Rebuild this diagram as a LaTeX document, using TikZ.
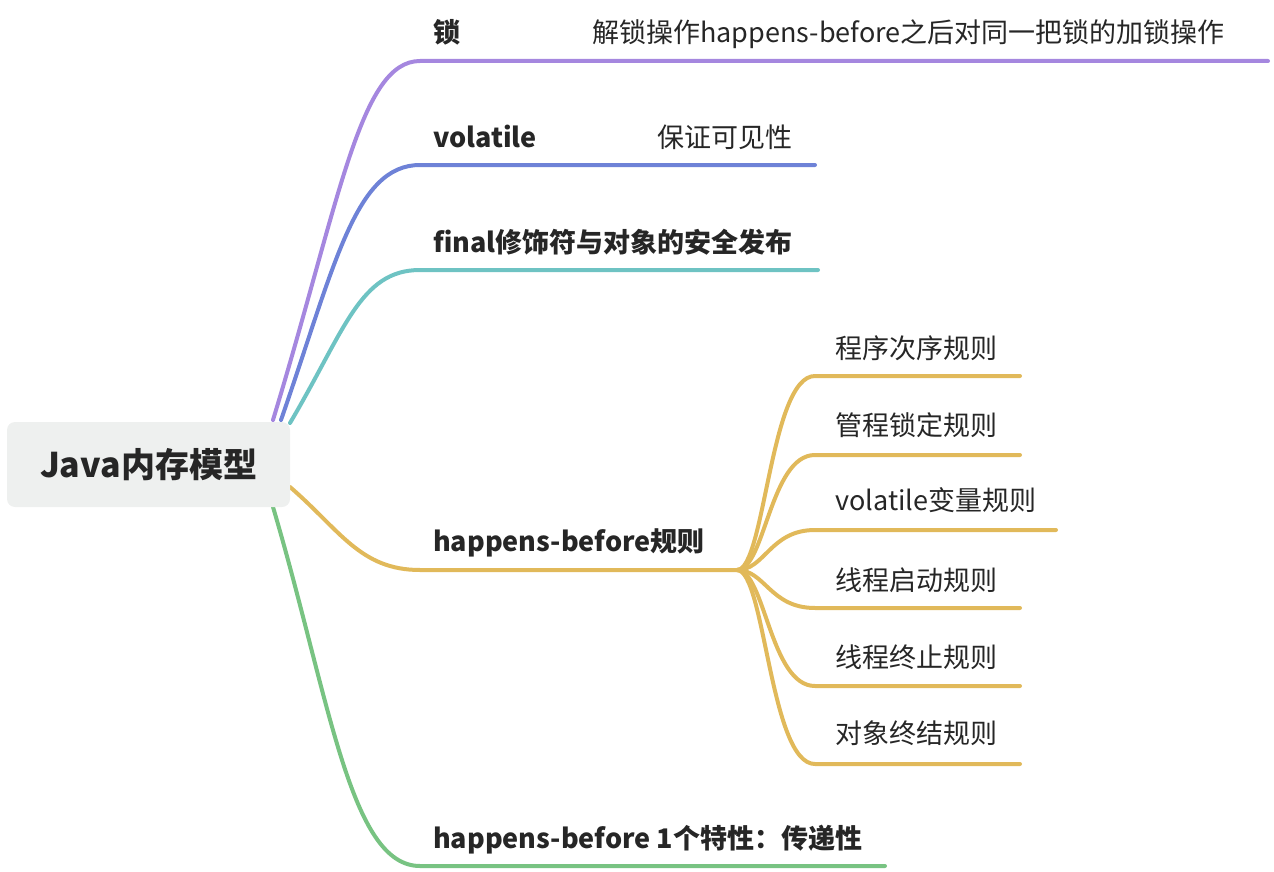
\documentclass[tikz,border=0pt]{standalone}
\usepackage{fontspec}
\setmainfont{Noto Sans CJK SC}
\newfontfamily\cjkb{Noto Sans CJK SC}[BoldFont={Noto Sans CJK SC Bold}]
\definecolor{cPurple}{HTML}{A587DF}
\definecolor{cBlue}{HTML}{6E82D7}
\definecolor{cTeal}{HTML}{6EC3C3}
\definecolor{cYellow}{HTML}{E1B95A}
\definecolor{cGreen}{HTML}{78C382}
\definecolor{cRoot}{HTML}{EEF0EF}
\definecolor{cText}{HTML}{262626}
\begin{document}
\begin{tikzpicture}[x=1pt,y=-1pt,
  branch/.style={line width=4pt,line cap=round},
  lbl/.style={anchor=base west,inner sep=0pt,text=cText,font=\fontsize{27}{32}\selectfont},
  blbl/.style={lbl,font=\fontsize{27}{32}\selectfont\bfseries},
  rootbox/.style={fill=cRoot,rounded corners=8pt,minimum width=283pt,minimum height=85pt,inner sep=0pt,text=cText,font=\fontsize{34}{40}\selectfont\bfseries}]
\useasboundingbox (0,0) rectangle (1274,872);
% branch lines (drawn first)
\coordinate (sP) at (273,420);
\coordinate (sB) at (281,420);
\coordinate (sT) at (290,423);
\coordinate (sY) at (290,487);
\coordinate (sG) at (273,507);
\coordinate (eP) at (1268,61);
\coordinate (eB) at (815,165);
\coordinate (eT) at (818,270);
\coordinate (hub) at (737,570);
\coordinate (eG) at (885,866);
\draw[branch,cPurple] (sP) .. controls (340,200) and (360,61) .. (420,61) -- (eP);
\draw[branch,cBlue] (sB) .. controls (335,265) and (355,165) .. (420,165) -- (eB);
\draw[branch,cTeal] (sT) .. controls (345,330) and (360,270) .. (420,270) -- (eT);
\draw[branch,cYellow] (sY) .. controls (340,530) and (360,570) .. (420,570) -- (hub);
\draw[branch,cGreen] (sG) .. controls (330,700) and (350,866) .. (420,866) -- (eG);
% sub-branches
\coordinate (e1) at (1020,376);
\coordinate (e2) at (1020,455);
\coordinate (e3) at (1056,530);
\coordinate (e4) at (1020,608);
\coordinate (e5) at (1020,686);
\coordinate (e6) at (1020,764);
\foreach \e/\y in {e1/376,e2/455,e3/530,e4/608,e5/686,e6/764}{
  \draw[branch,cYellow] (hub) .. controls (765,570) and (770,\y) .. (815,\y) -- (\e);
}
% root
\node[rootbox] (root) at (148.5,464.5) {Java内存模型};
% labels
\node[blbl] (lock) at (433,43) {锁};
\node[lbl] (lockd) at (592,43) {解锁操作happens-before之后对同一把锁的加锁操作};
\node[blbl] (vol) at (433,147) {volatile};
\node[lbl] (vold) at (657,147) {保证可见性};
\node[blbl] (fin) at (433,252) {final修饰符与对象的安全发布};
\node[blbl] (hb) at (433,551) {happens-before规则};
\node[lbl] (r1) at (835,358) {程序次序规则};
\node[lbl] (r2) at (835,435) {管程锁定规则};
\node[lbl] (r3) at (835,510) {volatile变量规则};
\node[lbl] (r4) at (835,590) {线程启动规则};
\node[lbl] (r5) at (835,667) {线程终止规则};
\node[lbl] (r6) at (835,743) {对象终结规则};
\node[blbl] (tr) at (433,848) {happens-before 1个特性：传递性};
\end{tikzpicture}
\end{document}
